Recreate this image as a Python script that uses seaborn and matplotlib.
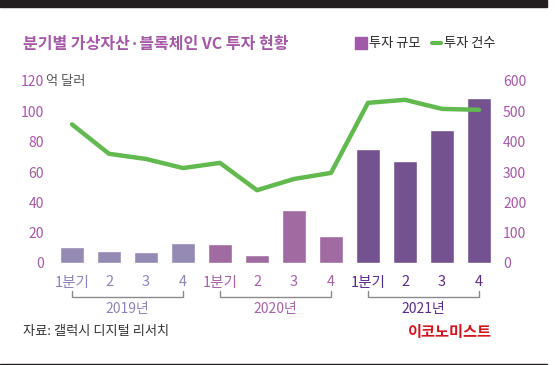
import numpy as np
import pandas as pd
import matplotlib.pyplot as plt
import seaborn as sns
from matplotlib.patches import Rectangle
from matplotlib.lines import Line2D

sns.set_style('white')
plt.rcParams['font.family'] = ['Noto Sans CJK KR', 'DejaVu Sans']

# data
years = ['2019년', '2020년', '2021년']
quarter_labels = ['1분기', '2', '3', '4'] * 3
invest_amount = [10.5, 8, 7, 13, 12.5, 5.5, 35, 18, 75, 67, 88, 109]   # 억 달러
deal_count = [457, 360, 343, 313, 330, 240, 277, 297, 528, 538, 508, 505]
left_ticks = [0, 20, 40, 60, 80, 100, 120]
right_ticks = [0, 100, 200, 300, 400, 500, 600]

bar_colors = ['#9183BA', '#A762A9', '#754899']
label_colors = ['#9183BA', '#A762A9', '#5B2C8A']
purple = '#A458A6'
green = '#62B94F'

df = pd.DataFrame({'q': range(12), 'amount': invest_amount, 'count': deal_count,
                   'year': np.repeat(years, 4)})

fig = plt.figure(figsize=(5.59, 3.65), dpi=100)
ax = fig.add_axes([53.5 / 559, (365 - 263) / 365, 444 / 559, 182 / 365])
ax2 = ax.twinx()

sns.barplot(data=df, x='q', y='amount', hue='year', palette=bar_colors, dodge=False,
            width=0.65, legend=False, ax=ax, zorder=1)
sns.lineplot(data=df, x='q', y='count', color=green, lw=3.2, ax=ax2)

ax.set_xlim(-0.5, 11.5)
ax.set_ylim(0, 120)
ax2.set_ylim(0, 600)
for a in (ax, ax2):
    for s in a.spines.values():
        s.set_visible(False)
    a.set_xlabel('')
    a.set_ylabel('')

ax.set_yticks(left_ticks)
ax.set_yticklabels(left_ticks, color=purple, fontsize=10)
ax.tick_params(axis='y', length=0, pad=7)
ax2.set_yticks(right_ticks)
ax2.set_yticklabels(right_ticks, color=purple, fontsize=10)
ax2.tick_params(axis='y', length=0, pad=4)

ax.set_xticks(range(12))
ax.set_xticklabels(quarter_labels, fontsize=10.5)
ax.tick_params(axis='x', length=0, pad=9)
for i, t in enumerate(ax.get_xticklabels()):
    t.set_color(label_colors[i // 4])
    if i >= 8:
        t.set_fontweight('medium')

ax.text(-0.018, 1.0, '억 달러', transform=ax.transAxes, ha='left', va='center',
        fontsize=9.5, color='#555555')

# year brackets under the quarter labels
tr = ax.get_xaxis_transform()
for k, yr in enumerate(years):
    x0, x1 = 4 * k, 4 * k + 3
    ax.plot([x0, x0, x1, x1], [-0.155, -0.187, -0.187, -0.155], color='#8a8a8a',
            lw=1, transform=tr, clip_on=False)
    ax.text((x0 + x1) / 2, -0.25, yr, transform=tr, ha='center', va='center',
            fontsize=10, color=label_colors[k])

# title, legend, notes
fig.text(23 / 559, (365 - 44) / 365, '분기별 가상자산·블록체인 VC 투자 현황', fontsize=11.5,
         fontweight='heavy', color=purple, va='center', ha='left')
handles = [Line2D([], [], marker='s', ls='none', ms=8, color='#A05AA8'),
           Line2D([], [], color=green, lw=3)]
fig.legend(handles, ['투자 규모', '투자 건수'], loc='center right',
           bbox_to_anchor=(496 / 559, (365 - 44) / 365), ncol=2, frameon=False,
           fontsize=9.5, handlelength=0.7, handletextpad=0.25, columnspacing=0.9,
           borderaxespad=0, borderpad=0)
fig.text(23 / 559, (365 - 332) / 365, '자료: 갤럭시 디지털 리서치', fontsize=9.5,
         color='#333333', va='center', ha='left')
fig.text(492 / 559, (365 - 332) / 365, '이코노미스트', fontsize=11, fontweight='bold',
         color='#D0161E', va='center', ha='right')

fig.patches.append(Rectangle((0, (365 - 7) / 365), 547 / 559, 7 / 365,
                             transform=fig.transFigure, color='#231F20'))
fig.patches.append(Rectangle((0, 0), 547 / 559, 1.5 / 365,
                             transform=fig.transFigure, color='#231F20'))

fig.savefig('out.png', dpi=100)
